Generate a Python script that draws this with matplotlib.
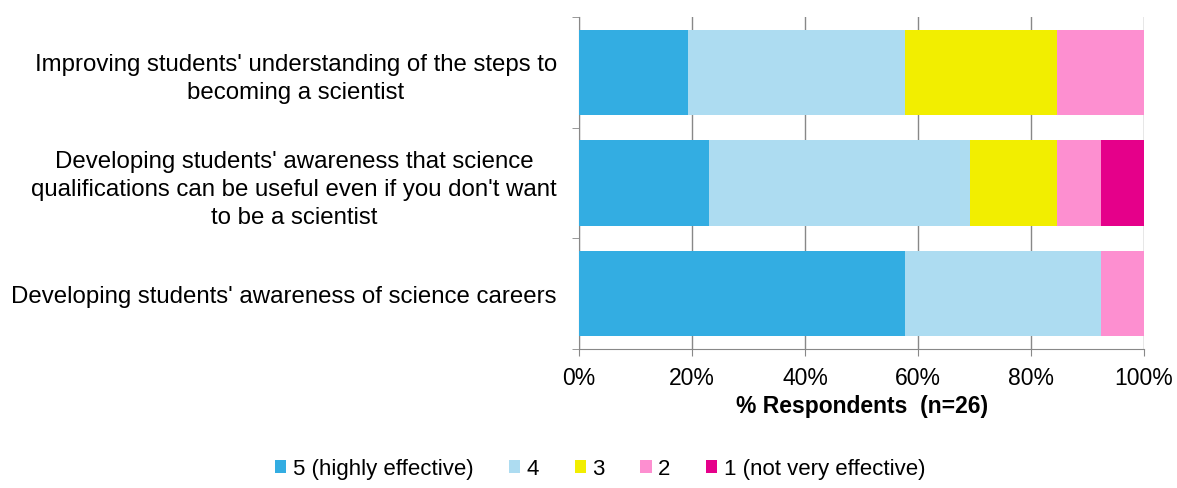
import matplotlib.pyplot as plt
import numpy as np

plt.rcParams['font.family'] = ['Liberation Sans', 'DejaVu Sans']

## Data (share of respondents, n=26)
categories = [
    "Improving students' understanding of the steps to\nbecoming a scientist",
    "Developing students' awareness that science\nqualifications can be useful even if you don't want\nto be a scientist",
    "Developing students' awareness of science careers",
]
ratings = ['5 (highly effective)', '4', '3', '2', '1 (not very effective)']
counts = np.array([
    [5, 10, 7, 4, 0],
    [6, 12, 4, 2, 2],
    [15, 9, 0, 2, 0],
])
n = 26
colors = ['#33ade2', '#addcf1', '#f2ee00', '#fd8fd0', '#e5008a']

pct = counts / n * 100

fig = plt.figure(figsize=(11.77, 4.89), dpi=100)
ax = fig.add_axes([0.492, 0.284, 0.480, 0.679])

y = np.arange(len(categories))
left = np.zeros(len(categories))
for i, r in enumerate(ratings):
    ax.barh(y, pct[:, i], left=left, height=0.77, color=colors[i], label=r, zorder=3)
    left += pct[:, i]

ax.set_xlim(0, 100)
ax.set_ylim(len(categories) - 0.5, -0.5)
ax.set_xticks(np.arange(0, 101, 20))
ax.set_xticklabels([f'{v}%' for v in range(0, 101, 20)], fontsize=16.5)
ax.set_yticks(y)
ax.set_yticklabels(categories, fontsize=17.3, linespacing=1.35)
for lab in ax.get_yticklabels():
    lab.set_multialignment('center')
ax.set_yticks(np.arange(-0.5, len(categories), 1), minor=True)
ax.tick_params(axis='y', which='major', length=0, pad=16)
ax.tick_params(axis='y', which='minor', length=5, color='#888888')
ax.tick_params(axis='x', length=5, color='#888888', pad=7)

ax.grid(axis='x', color='#888888', linewidth=1, zorder=0)
for s in ['top', 'right']:
    ax.spines[s].set_visible(False)
for s in ['left', 'bottom']:
    ax.spines[s].set_color('#888888')

ax.set_xlabel('% Respondents  (n=26)', fontsize=16.5, fontweight='bold', labelpad=4)

fig.legend(loc='center', bbox_to_anchor=(0.51, 0.039), ncol=5, frameon=False,
           fontsize=16, handlelength=0.5, handleheight=0.5, handletextpad=0.3,
           columnspacing=1.6)

plt.savefig('out.png')
